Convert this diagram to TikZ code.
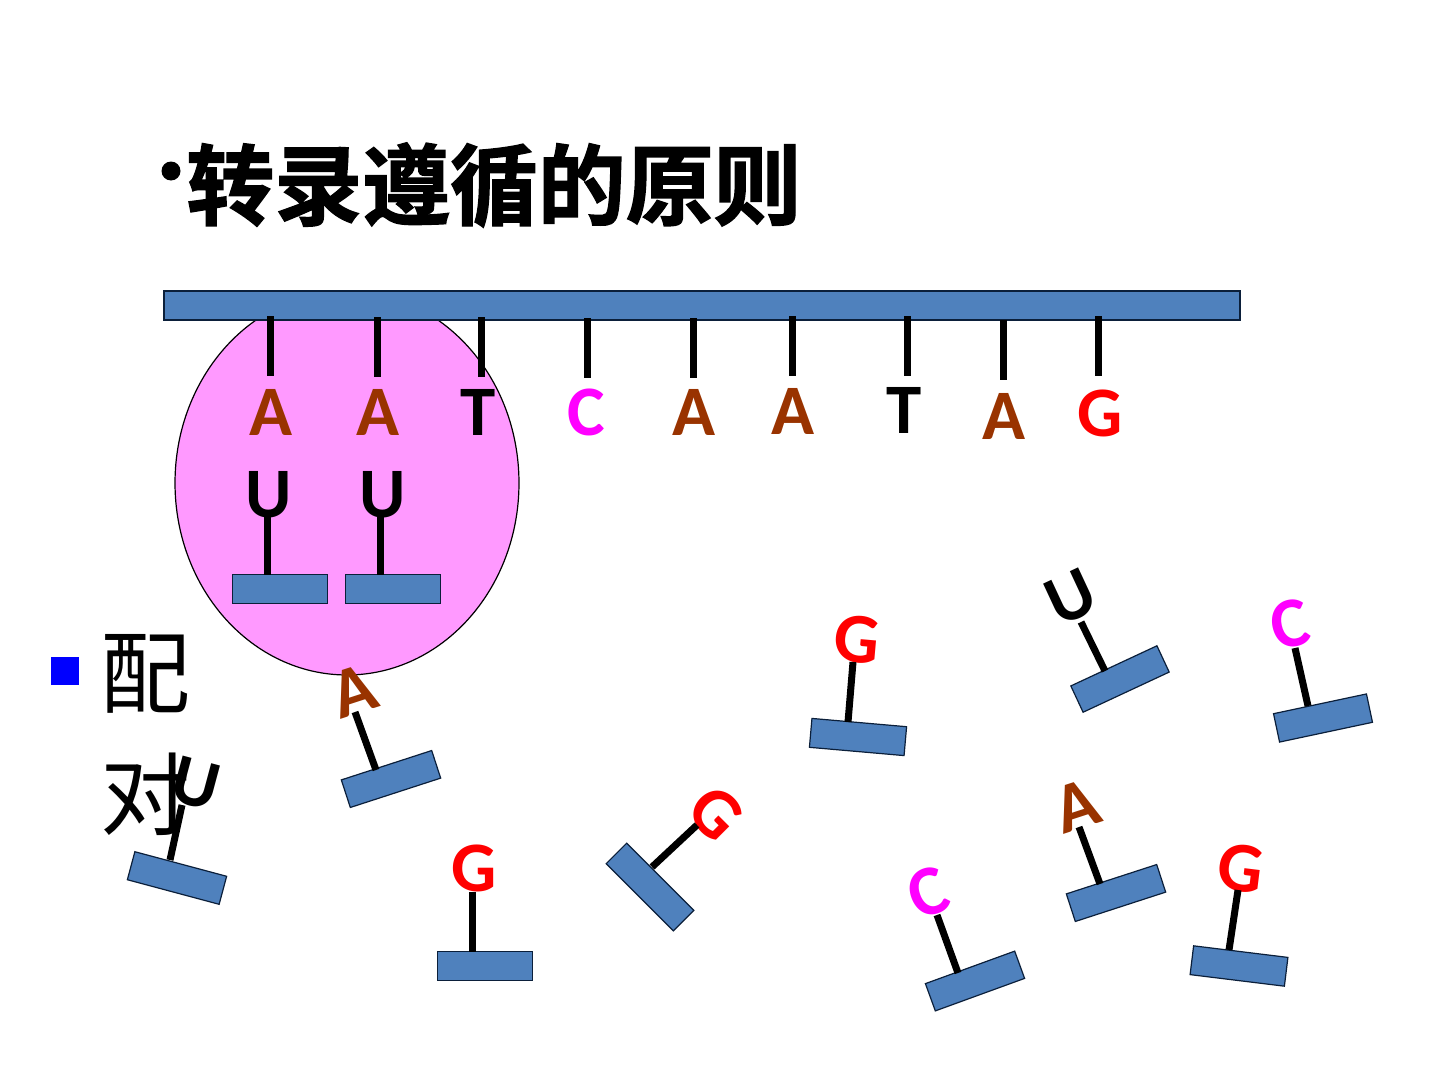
\documentclass[tikz,border=0pt]{standalone}
\usepackage{fontspec}
\usetikzlibrary{calc,shapes.geometric}
\setmainfont{Carlito}
\newfontfamily\cjkreg{Noto Sans CJK SC}
\newfontfamily\cjkheavy[FakeBold=1.6]{Noto Sans CJK SC Bold}
\definecolor{barblue}{HTML}{4F81BD}
\definecolor{barline}{HTML}{0B1F3A}
\definecolor{basebrown}{HTML}{993300}
\definecolor{basepink}{HTML}{FF00FF}
\definecolor{bubble}{HTML}{FF99FF}
\tikzset{
  barshape/.style={draw=barline,line width=0.06cm,fill=barblue,rectangle,
    minimum width=4.75cm,minimum height=1.45cm,inner sep=0pt,outer sep=0pt},
  stemline/.style={line width=0.35cm,black,line cap=butt},
  basename/.style={inner sep=0pt,outer sep=0pt,text height=2.3cm,text depth=0pt,
    font=\fontsize{101}{101}\selectfont\bfseries},
}
% A free nucleotide: name, letter, colour, angle, letter centre, stem ends, bar centre
\newcommand{\nucleotide}[8]{
  \node[barshape,rotate=#4] (#1-bar) at (#8) {};
  \node[basename,text=#3,rotate=#4] (#1-base) at (#5) {#2};
  \coordinate (#1-top) at (#6);
  \coordinate (#1-foot) at (#7);
  \draw[stemline] (#1-top) -- (#1-foot);
}
% A base fixed on the template strand: name, letter, colour, stem x, stem top y, letter centre
\newcommand{\strandbase}[6]{
  \coordinate (#1-top) at (#4,#5);
  \coordinate (#1-foot) at ($(#1-top)+(0,60)$);
  \draw[stemline] (#1-top) -- (#1-foot);
  \node[basename,text=#3] (#1-base) at (#6) {#2};
}
\begin{document}
\begin{tikzpicture}[x=0.05cm,y=-0.05cm]
\useasboundingbox (0,0) rectangle (1440,1080);

% Heading
\node[circle,fill=black,inner sep=0pt,minimum size=0.95cm] (dot) at (171,171) {};
\node[anchor=center,inner sep=0pt,font=\cjkheavy\fontsize{125}{125}\selectfont] (title) at (494,185) {转录遵循的原则};

% Side label
\node[rectangle,fill=blue,inner sep=0pt,minimum size=1.4cm] (mark) at (65,671) {};
\node[anchor=center,inner sep=0pt,align=left,font=\cjkreg\fontsize{128}{174}\selectfont] (pair) at (145,735) {配\\对};

% Polymerase and template strand
\node[ellipse,draw=black,line width=0.06cm,fill=bubble,minimum width=17.2cm,minimum height=19.2cm,inner sep=0pt] (poly) at (347,483) {};
\node[rectangle,draw=barline,line width=0.06cm,fill=barblue,minimum width=53.8cm,minimum height=1.45cm,inner sep=0pt] (strand) at (702,305.5) {};

\strandbase{s1}{A}{basebrown}{270.5}{316}{271,412}
\strandbase{s2}{A}{basebrown}{377}{317}{378,412}
\strandbase{s3}{T}{black}{481}{317}{478,412}
\strandbase{s4}{C}{basepink}{587}{318}{586,412}
\strandbase{s5}{A}{basebrown}{693}{318}{694,412}
\strandbase{s6}{A}{basebrown}{792}{316}{793,411}
\strandbase{s7}{T}{black}{907}{316}{904,410}
\strandbase{s8}{A}{basebrown}{1003}{320}{1004,416}
\strandbase{s9}{G}{red}{1098}{316}{1100,413}

% Nucleotides already paired
\nucleotide{p1}{U}{black}{0}{269,494}{267.5,517}{267.5,575}{280,589}
\nucleotide{p2}{U}{black}{0}{383,494}{380.7,517}{380.7,575}{393,589}

% Free nucleotides
\nucleotide{f1}{A}{basebrown}{18}{354,691}{355,712}{376,770}{391,779}
\nucleotide{f2}{U}{black}{-15}{196,783}{182,805}{170,860}{177,878}
\nucleotide{f3}{G}{red}{0}{474,868}{472,892}{472,952}{485,966}
\nucleotide{f4}{G}{red}{-45}{716,813}{697,825}{652,867}{650,887}
\nucleotide{f5}{G}{red}{-5}{857,640}{853,662}{848,722}{858,737}
\nucleotide{f6}{U}{black}{25}{1071,597}{1081,622}{1105,671}{1120,679}
\nucleotide{f7}{C}{basepink}{12}{1290,624}{1295,648}{1308,706}{1323,718}
\nucleotide{f8}{A}{basebrown}{18}{1077,806}{1079,827}{1100,884}{1116,893}
\nucleotide{f9}{G}{red}{-7}{1241,868}{1238,890}{1229,950}{1239,966}
\nucleotide{f10}{C}{basepink}{20}{928,892}{937,915}{958,973}{975,981}
\end{tikzpicture}
\end{document}
